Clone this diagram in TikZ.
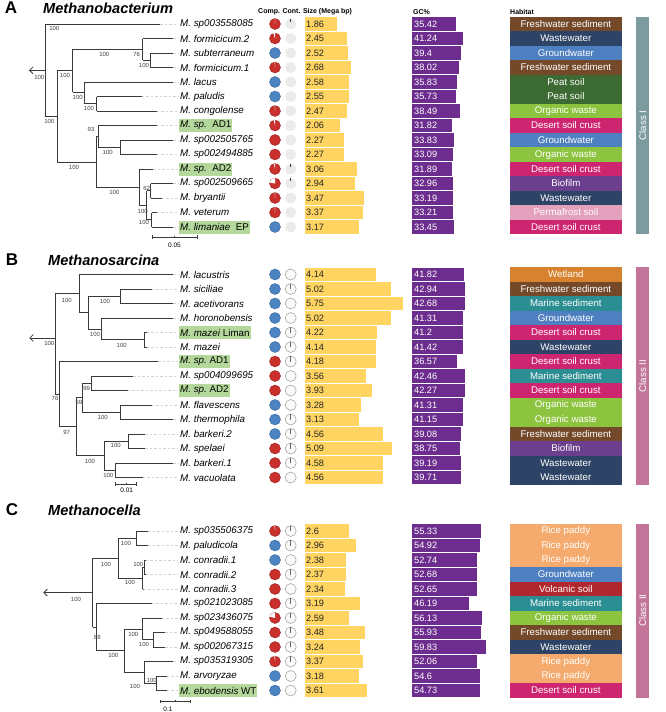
\documentclass[tikz,border=0pt]{standalone}
\usepackage{fontspec}
\setmainfont{Liberation Sans}
\usetikzlibrary{arrows.meta}
\definecolor{compred}{HTML}{C9302C}
\definecolor{compblue}{HTML}{4C84C3}
\definecolor{hlg}{HTML}{B4D89C}
\definecolor{sizey}{HTML}{FFD460}
\definecolor{gcp}{HTML}{6C2D8E}
\definecolor{classI}{HTML}{7B9B9E}
\definecolor{classII}{HTML}{C27599}
\definecolor{hFresh}{HTML}{74492A}
\definecolor{hWaste}{HTML}{2E4466}
\definecolor{hGround}{HTML}{4E7FC0}
\definecolor{hPeat}{HTML}{3C6A33}
\definecolor{hOrg}{HTML}{8CC43F}
\definecolor{hDesert}{HTML}{CE2571}
\definecolor{hBio}{HTML}{6B3F8D}
\definecolor{hPerma}{HTML}{E3A1BD}
\definecolor{hWet}{HTML}{D7822E}
\definecolor{hMarine}{HTML}{2B8E92}
\definecolor{hRice}{HTML}{F5AA6E}
\definecolor{hVolc}{HTML}{B0282D}
\definecolor{brc}{HTML}{3A3A3A}
\newcounter{bsn}
\newcommand\Tv[3]{\draw[br] (#1,#2) -- (#1,#3);}
\newcommand\Th[3]{\draw[br] (#2,#1) -- (#3,#1);}
\newcommand\Ttip[3]{\draw[br] (#1,#3) -- (#2,#3); \draw[tipd] (#2,#3) -- (178,#3);}
\newcommand\Tbs[3]{\stepcounter{bsn}\node[bsl] (bs\arabic{bsn}) at (#1,#2) {#3};}
\tikzset{
  br/.style={draw=brc, line width=0.8pt},
  tipd/.style={draw=gray!35, line width=0.6pt, dash pattern=on 2.5pt off 2pt},
  bsl/.style={font=\fontsize{6}{6}\selectfont, text=black!75, inner sep=0pt},
  lab/.style={anchor=west, font=\fontsize{9.8}{11}\selectfont\itshape, inner xsep=1pt, inner ysep=0pt, minimum height=13pt},
  valt/.style={anchor=west, font=\fontsize{9.2}{10}\selectfont, text=black!85, inner sep=0pt},
  valw/.style={anchor=west, font=\fontsize{9.2}{10}\selectfont, text=white, inner sep=0pt},
  habbox/.style={minimum width=111.7pt, minimum height=14.6pt, inner sep=0pt, text=white, font=\fontsize{9.7}{10}\selectfont},
  classbox/.style={rotate=90, minimum height=13.3pt, inner sep=0pt, text=white, font=\fontsize{9.7}{10}\selectfont},
  hdr/.style={anchor=west, font=\fontsize{7}{8}\selectfont\bfseries, inner sep=0pt},
  plet/.style={font=\fontsize{17}{18}\selectfont\bfseries, inner sep=0pt},
  ptitle/.style={anchor=west, font=\fontsize{14.6}{16}\selectfont\bfseries\itshape, inner sep=0pt},
  sbar/.style={draw=brc, line width=0.6pt},
  sbt/.style={font=\fontsize{6.5}{7}\selectfont, inner sep=0pt},
  contA/.style={fill=black!8},
  contB/.style={fill=black!2, draw=black!40, line width=0.5pt},
  tick/.style={draw=black!60, line width=0.5pt},
  arr/.style={draw=brc, line width=0.8pt, -{Straight Barb[length=3.5pt,width=7pt]}}
}
\begin{document}
\begin{tikzpicture}[x=1pt,y=-1pt]
\useasboundingbox (0,0) rectangle (666,712);
% ---------- headers ----------
\node[hdr] (hd1) at (258,12) {Comp. Cont. Size (Mega bp)};
\node[hdr] (hd2) at (413,12) {GC\%};
\node[hdr] (hd3) at (510,12) {Habitat};
% ---------- panel titles ----------
\node[plet] (pA) at (11,8) {A};
\node[ptitle] (tA) at (43,8) {Methanobacterium};
\node[plet] (pB) at (12,260) {B};
\node[ptitle] (tB) at (48,260) {Methanosarcina};
\node[plet] (pC) at (12,510) {C};
\node[ptitle] (tC) at (48,510) {Methanocella};

% ---------- Panel A rows ----------
\foreach \I/\Lab/\Hl/\Cc/\Wg/\Ct/\Sz/\Gc/\Hab/\Hc in {
1/{M. sp003558085}/none/compred/3/1/1.86/35.42/Freshwater sediment/hFresh,
2/{M. formicicum.2}/none/compred/18/0/2.45/41.24/Wastewater/hWaste,
3/{M. subterraneum}/none/compblue/0/0/2.52/39.4/Groundwater/hGround,
4/{M. formicicum.1}/none/compred/4/0/2.68/38.02/Freshwater sediment/hFresh,
5/{M. lacus}/none/compblue/0/0/2.58/35.83/Peat soil/hPeat,
6/{M. paludis}/none/compblue/0/0/2.55/35.73/Peat soil/hPeat,
7/{M. congolense}/none/compred/4/0/2.47/38.49/Organic waste/hOrg,
8/{M. sp.\ \ \textup{AD1}}/hlg/compred/14/0/2.06/31.82/Desert soil crust/hDesert,
9/{M. sp002505765}/none/compred/0/0/2.27/33.83/Groundwater/hGround,
10/{M. sp002494885}/none/compred/0/0/2.27/33.09/Organic waste/hOrg,
11/{M. sp.\ \ \textup{AD2}}/hlg/compred/12/1/3.06/31.89/Desert soil crust/hDesert,
12/{M. sp002509665}/none/compred/80/1/2.94/32.96/Biofilm/hBio,
13/{M. bryantii}/none/compred/4/0/3.47/33.19/Wastewater/hWaste,
14/{M. veterum}/none/compred/4/0/3.37/33.21/Permafrost soil/hPerma,
15/{M. limaniae\ \ \textup{EP}}/hlg/compblue/0/0/3.17/33.45/Desert soil crust/hDesert}{
  \pgfmathsetmacro\Y{24+(\I-1)*14.5}
  \node[lab, fill=\Hl] (la\I) at (179,\Y) {\Lab};
  \fill[\Cc, draw=\Cc!75!black, line width=0.4pt] (275,\Y) circle[radius=5.5pt];
  \ifnum\Wg>0 \fill[white] (275,\Y) -- ++(0,-5.5) arc[start angle=90, end angle=90+\Wg, radius=5.5pt] -- cycle; \fi
  \fill[contA] (290.7,\Y) circle[radius=5.5pt];
  \ifnum\Ct=1 \draw[tick, draw=black!80] (290.7,\Y-5.5) -- (290.7,\Y-2.5); \fi
  \pgfmathsetmacro\SW{305+17.1*\Sz}
  \fill[sizey] (305,\Y-6.6) rectangle (\SW,\Y+6.6);
  \node[valt] (sa\I) at (306,\Y) {\Sz};
  \pgfmathsetmacro\GW{412.3+1.235*\Gc}
  \fill[gcp] (412.3,\Y-6.6) rectangle (\GW,\Y+6.6);
  \node[valw] (ga\I) at (414,\Y) {\Gc};
  \node[habbox, fill=\Hc] (ha\I) at (565.85,\Y) {\Hab};
}
\node[classbox, fill=classI, minimum width=217.5pt] (clA) at (642.65,125.5) {Class I};

% ---------- Panel A tree ----------
\coordinate (rootA) at (45,70.3);
\coordinate (arrA) at (29,70.3);
\draw[arr] (rootA) -- (arrA);
\Tv{45}{24}{116.7}
\Ttip{45}{160}{24}
\Th{116.7}{45}{57.3}
\Tv{57.3}{70.7}{162.7}
\Th{70.7}{57.3}{72.7}
\Tv{72.7}{49.3}{92.3}
\Th{49.3}{72.7}{142.7}
\Tv{142.7}{38.5}{60.25}
\Ttip{142.7}{173.3}{38.5}
\Th{60.25}{142.7}{150}
\Tv{150}{53}{67.5}
\Ttip{150}{173.3}{53}
\Ttip{150}{173.3}{67.5}
\Th{92.3}{72.7}{84}
\Tv{84}{82}{103.75}
\Ttip{84}{173.3}{82}
\Th{103.75}{84}{96.7}
\Tv{96.7}{96.5}{111}
\Ttip{96.7}{141.7}{96.5}
\Ttip{96.7}{156.7}{111}
\Th{162.7}{57.3}{96}
\Tv{96}{136.4}{187.1}
\Th{136.4}{96}{98}
\Tv{98}{125.5}{147.25}
\Ttip{98}{156.7}{125.5}
\Th{147.25}{98}{120}
\Tv{120}{140}{154.5}
\Ttip{120}{173.3}{140}
\Ttip{120}{156.7}{154.5}
\Th{187.1}{96}{139.3}
\Tv{139.3}{169}{205.25}
\Ttip{139.3}{153.3}{169}
\Th{205.25}{139.3}{146.7}
\Tv{146.7}{190.75}{219.75}
\Th{190.75}{146.7}{150.7}
\Tv{150.7}{183.5}{198}
\Ttip{150.7}{173.3}{183.5}
\Ttip{150.7}{161.7}{198}
\Th{219.75}{146.7}{151.7}
\Tv{151.7}{212.5}{227}
\Ttip{151.7}{156.7}{212.5}
\Ttip{151.7}{173.3}{227}
\Tbs{54.3}{28.3}{100}
\Tbs{39.3}{77.7}{100}
\Tbs{49.3}{121.7}{100}
\Tbs{65}{75}{100}
\Tbs{104.3}{54}{100}
\Tbs{136.7}{54}{76}
\Tbs{144}{65}{100}
\Tbs{77.7}{97.7}{100}
\Tbs{89}{108.3}{100}
\Tbs{91}{129.3}{93}
\Tbs{107.7}{152.3}{100}
\Tbs{74}{167.7}{100}
\Tbs{114.3}{192.7}{100}
\Tbs{146.7}{188.3}{62}
\Tbs{142.7}{211}{100}
\Tbs{144}{222.7}{100}
\coordinate (sbA1) at (152,237);
\coordinate (sbA2) at (197,237);
\draw[sbar] (sbA1) -- (sbA2);
\draw[sbar] (152,235.3) -- (152,238.7) (197,235.3) -- (197,238.7) (174.5,235.5) -- (174.5,237);
\node[sbt] (sbAt) at (174.5,245) {0.05};

% ---------- Panel B rows ----------
\foreach \I/\Lab/\Hl/\Cc/\Wg/\Ct/\Sz/\Gc/\Hab/\Hc in {
1/{M. lacustris}/none/compblue/0/0/4.14/41.82/Wetland/hWet,
2/{M. siciliae}/none/compblue/0/1/5.02/42.94/Freshwater sediment/hFresh,
3/{M. acetivorans}/none/compblue/0/0/5.75/42.68/Marine sediment/hMarine,
4/{M. horonobensis}/none/compblue/0/0/5.02/41.31/Groundwater/hGround,
5/{M. mazei \textup{Liman}}/hlg/compblue/0/1/4.22/41.2/Desert soil crust/hDesert,
6/{M. mazei}/none/compblue/0/1/4.14/41.42/Wastewater/hWaste,
7/{M. sp.\ \textup{AD1}}/hlg/compred/0/1/4.18/36.57/Desert soil crust/hDesert,
8/{M. sp004099695}/none/compred/0/0/3.56/42.46/Marine sediment/hMarine,
9/{M. sp.\ \textup{AD2}}/hlg/compred/0/0/3.93/42.27/Desert soil crust/hDesert,
10/{M. flavescens}/none/compblue/0/0/3.28/41.31/Organic waste/hOrg,
11/{M. thermophila}/none/compblue/0/1/3.13/41.15/Organic waste/hOrg,
12/{M. barkeri.2}/none/compblue/0/1/4.56/39.08/Freshwater sediment/hFresh,
13/{M. spelaei}/none/compred/0/1/5.09/38.75/Biofilm/hBio,
14/{M. barkeri.1}/none/compred/0/1/4.58/39.19/Wastewater/hWaste,
15/{M. vacuolata}/none/compred/0/0/4.56/39.71/Wastewater/hWaste}{
  \pgfmathsetmacro\Y{274.5+(\I-1)*14.5}
  \node[lab, fill=\Hl] (lb\I) at (179,\Y) {\Lab};
  \fill[\Cc, draw=\Cc!75!black, line width=0.4pt] (275,\Y) circle[radius=5.5pt];
  \draw[contB] (290.7,\Y) circle[radius=5.5pt];
  \ifnum\Ct=1 \draw[tick] (290.7,\Y) -- (290.7,\Y-5.5); \fi
  \pgfmathsetmacro\SW{305+17.1*\Sz}
  \fill[sizey] (305,\Y-6.6) rectangle (\SW,\Y+6.6);
  \node[valt] (sb\I) at (306,\Y) {\Sz};
  \pgfmathsetmacro\GW{412.3+1.235*\Gc}
  \fill[gcp] (412.3,\Y-6.6) rectangle (\GW,\Y+6.6);
  \node[valw] (gb\I) at (414,\Y) {\Gc};
  \node[habbox, fill=\Hc] (hb\I) at (565.85,\Y) {\Hab};
}
\node[classbox, fill=classII, minimum width=217.5pt] (clB) at (642.65,376) {Class II};

% ---------- Panel B tree ----------
\coordinate (rootB) at (55,338);
\coordinate (arrB) at (29.3,338);
\draw[arr] (rootB) -- (arrB);
\Tv{55}{293.5}{394.1}
\Th{293.5}{55}{79}
\Tv{79}{274.5}{312.6}
\Ttip{79}{173.3}{274.5}
\Th{312.6}{79}{88.3}
\Tv{88.3}{296.25}{328.9}
\Th{296.25}{88.3}{120.7}
\Tv{120.7}{289}{303.5}
\Ttip{120.7}{151.7}{289}
\Ttip{120.7}{173.3}{303.5}
\Th{328.9}{88.3}{101}
\Tv{101}{318}{339.75}
\Ttip{101}{173.3}{318}
\Th{339.75}{101}{144}
\Tv{144}{332.5}{347}
\Ttip{144}{146.7}{332.5}
\Ttip{144}{146.7}{347}
\Th{394.1}{55}{59.3}
\Tv{59.3}{361.5}{426.75}
\Ttip{59.3}{158.3}{361.5}
\Th{426.75}{59.3}{76}
\Tv{76}{397.75}{455.75}
\Th{397.75}{76}{82.3}
\Tv{82.3}{383.25}{412.25}
\Th{383.25}{82.3}{91.7}
\Tv{91.7}{376}{390.5}
\Ttip{91.7}{133.3}{376}
\Ttip{91.7}{127.7}{390.5}
\Th{412.25}{82.3}{120.7}
\Tv{120.7}{405}{419.5}
\Ttip{120.7}{151.7}{405}
\Ttip{120.7}{173.3}{419.5}
\Th{455.75}{76}{104}
\Tv{104}{441.25}{470.25}
\Th{441.25}{104}{128.3}
\Tv{128.3}{434}{448.5}
\Ttip{128.3}{145}{434}
\Ttip{128.3}{145}{448.5}
\Th{470.25}{104}{115}
\Tv{115}{463}{477.5}
\Ttip{115}{173.3}{463}
\Ttip{115}{142.7}{477.5}
\Tbs{49.3}{343}{100}
\Tbs{66.7}{300}{100}
\Tbs{105}{301.7}{100}
\Tbs{95}{334}{100}
\Tbs{121.7}{345}{100}
\Tbs{55}{398.3}{76}
\Tbs{86.7}{388}{99}
\Tbs{79}{402.7}{59}
\Tbs{102.7}{417.7}{100}
\Tbs{66.7}{432.3}{97}
\Tbs{115.7}{445.7}{100}
\Tbs{90}{461}{100}
\Tbs{108.3}{475}{100}
\coordinate (sbB1) at (115,484);
\coordinate (sbB2) at (136.7,484);
\draw[sbar] (sbB1) -- (sbB2);
\draw[sbar] (115,482.3) -- (115,485.7) (136.7,482.3) -- (136.7,485.7) (125.85,482.5) -- (125.85,484);
\node[sbt] (sbBt) at (126.7,490.5) {0.01};

% ---------- Panel C rows ----------
\foreach \I/\Lab/\Hl/\Cc/\Wg/\Ct/\Sz/\Gc/\Hab/\Hc in {
1/{M. sp035506375}/none/compred/6/1/2.6/55.33/Rice paddy/hRice,
2/{M. paludicola}/none/compblue/0/1/2.96/54.92/Rice paddy/hRice,
3/{M. conradii.1}/none/compblue/0/0/2.38/52.74/Rice paddy/hRice,
4/{M. conradii.2}/none/compred/0/1/2.37/52.68/Groundwater/hGround,
5/{M. conradii.3}/none/compred/0/0/2.34/52.65/Volcanic soil/hVolc,
6/{M. sp021023085}/none/compred/0/1/3.19/46.19/Marine sediment/hMarine,
7/{M. sp023436075}/none/compred/75/1/2.59/56.13/Organic waste/hOrg,
8/{M. sp049588055}/none/compred/0/1/3.48/55.93/Freshwater sediment/hFresh,
9/{M. sp002067315}/none/compred/0/1/3.24/59.83/Wastewater/hWaste,
10/{M. sp035319305}/none/compred/8/1/3.37/52.06/Rice paddy/hRice,
11/{M. arvoryzae}/none/compblue/0/0/3.18/54.6/Rice paddy/hRice,
12/{M. ebodensis \textup{WT}}/hlg/compblue/0/0/3.61/54.73/Desert soil crust/hDesert}{
  \pgfmathsetmacro\Y{531+(\I-1)*14.5}
  \node[lab, fill=\Hl] (lc\I) at (179,\Y) {\Lab};
  \fill[\Cc, draw=\Cc!75!black, line width=0.4pt] (275,\Y) circle[radius=5.5pt];
  \ifnum\Wg>0 \fill[white] (275,\Y) -- ++(0,-5.5) arc[start angle=90, end angle=90+\Wg, radius=5.5pt] -- cycle; \fi
  \draw[contB] (290.7,\Y) circle[radius=5.5pt];
  \ifnum\Ct=1 \draw[tick] (290.7,\Y) -- (290.7,\Y-5.5); \fi
  \pgfmathsetmacro\SW{305+17.1*\Sz}
  \fill[sizey] (305,\Y-6.6) rectangle (\SW,\Y+6.6);
  \node[valt] (sc\I) at (306,\Y) {\Sz};
  \pgfmathsetmacro\GW{412.3+1.235*\Gc}
  \fill[gcp] (412.3,\Y-6.6) rectangle (\GW,\Y+6.6);
  \node[valw] (gc\I) at (414,\Y) {\Gc};
  \node[habbox, fill=\Hc] (hc\I) at (565.85,\Y) {\Hab};
}
\node[classbox, fill=classII, minimum width=174pt] (clC) at (642.65,610.75) {Class II};

% ---------- Panel C tree ----------
\coordinate (rootC) at (92.7,592.6);
\coordinate (arrC) at (43.3,592.6);
\draw[arr] (rootC) -- (arrC);
\Tv{92.7}{558.2}{627.1}
\Th{558.2}{92.7}{118.3}
\Tv{118.3}{538.25}{578.1}
\Th{538.25}{118.3}{136.7}
\Tv{136.7}{531}{545.5}
\Ttip{136.7}{148.3}{531}
\Ttip{136.7}{148.3}{545.5}
\Th{578.1}{118.3}{142.7}
\Tv{142.7}{567.25}{589}
\Th{567.25}{142.7}{144}
\Tv{144}{560}{574.5}
\Ttip{144}{145.5}{560}
\Ttip{144}{145.5}{574.5}
\Ttip{142.7}{143.5}{589}
\Th{627.1}{92.7}{96}
\Tv{96}{603.5}{650.6}
\Ttip{96}{151.7}{603.5}
\Th{650.6}{96}{124}
\Tv{124}{628.9}{672.4}
\Th{628.9}{124}{142.7}
\Tv{142.7}{618}{639.75}
\Ttip{142.7}{161.7}{618}
\Th{639.75}{142.7}{153.3}
\Tv{153.3}{632.5}{647}
\Ttip{153.3}{165}{632.5}
\Ttip{153.3}{165}{647}
\Th{672.4}{124}{144}
\Tv{144}{661.5}{683.25}
\Ttip{144}{173.3}{661.5}
\Th{683.25}{144}{156.7}
\Tv{156.7}{676}{690.5}
\Ttip{156.7}{166.7}{676}
\Ttip{156.7}{166.7}{690.5}
\Tbs{76}{599.3}{100}
\Tbs{126}{543.3}{100}
\Tbs{106}{564}{100}
\Tbs{138.3}{564.3}{100}
\Tbs{130}{582.7}{100}
\Tbs{97.3}{637.7}{88}
\Tbs{133.3}{634}{100}
\Tbs{144}{644}{100}
\Tbs{113.3}{655.5}{100}
\Tbs{135}{686.7}{100}
\Tbs{151.7}{680.5}{100}
\coordinate (sbC1) at (160,701.7);
\coordinate (sbC2) at (190,701.7);
\draw[sbar] (sbC1) -- (sbC2);
\draw[sbar] (160,700) -- (160,703.4) (190,700) -- (190,703.4) (175,700.2) -- (175,701.7);
\node[sbt] (sbCt) at (168,709) {0.1};
\end{tikzpicture}
\end{document}
